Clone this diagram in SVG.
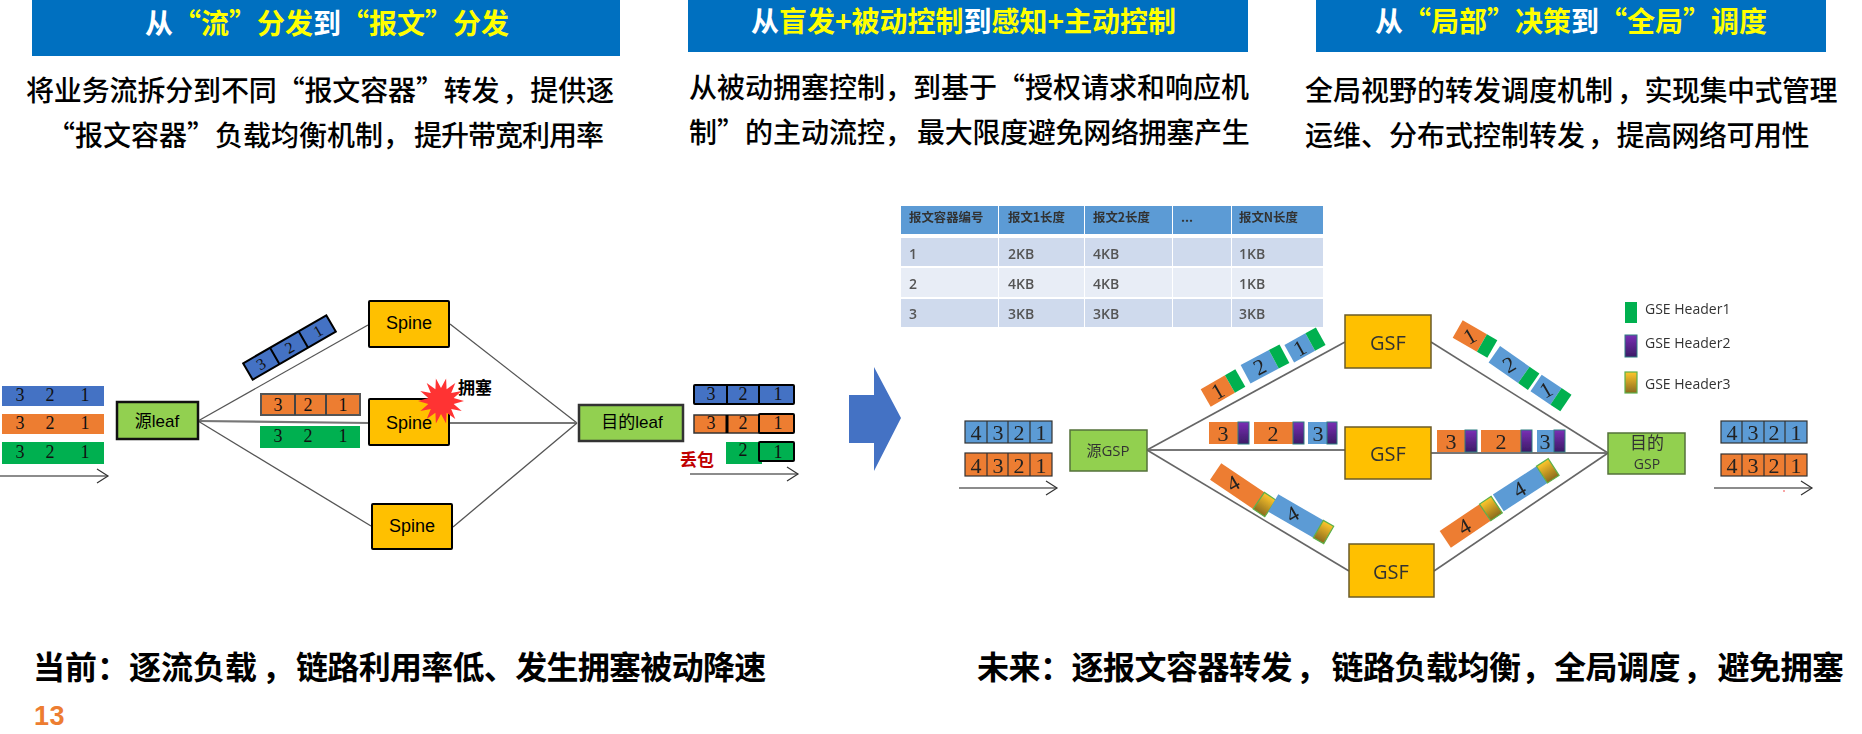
<svg xmlns="http://www.w3.org/2000/svg" width="1862" height="734" viewBox="0 0 1862 734">
<style>
text{font-family:"Noto Sans CJK SC","Liberation Sans",sans-serif}
.hb{fill:#0070C0}
.ht{font-size:28px;font-weight:700;fill:#fff}
.y{fill:#FFFF00}
.body{font-size:28px;font-weight:500;fill:#000}
.foot{font-size:32px;font-weight:700;fill:#000}
.s{font-family:"Liberation Serif",serif;text-anchor:middle;dominant-baseline:central;fill:#111}
.d18{font-size:18px}
.d22{font-size:22px;fill:#222}
.a{font-family:"Liberation Sans","Noto Sans CJK SC",sans-serif;text-anchor:middle;dominant-baseline:central;fill:#000}
.o{font-family:"Open Sans","Noto Sans CJK SC",sans-serif;fill:#333}
.m{text-anchor:middle;dominant-baseline:central}
.bl{fill:#4472C4}.or{fill:#ED7D31}.gr{fill:#00B050}
.bl2{fill:#5B9BD5}.pu{fill:url(#gPur);stroke:#2E7D80;stroke-width:1}.ye{fill:url(#gYel);stroke:#5DB04A;stroke-width:1.2}
.cell{stroke:#000;stroke-width:2}
.cell2{stroke:#333;stroke-width:1.2}
.sp{fill:#FFC000;stroke:#000;stroke-width:2}
.gsf{fill:#FFC000;stroke:#6B5B2A;stroke-width:1.5}
.lf{fill:#92D050;stroke:#111;stroke-width:2.5}
.gsp{fill:#92D050;stroke:#55713A;stroke-width:1.5}
.ln{fill:none;stroke:#555;stroke-width:1.3}
.ln2{fill:none;stroke:#777;stroke-width:2.2}
.ln3{fill:none;stroke:#666;stroke-width:1.6}
.ar{fill:none;stroke:#666;stroke-width:1.6;marker-end:url(#open)}
.th{font-size:12.4px;font-weight:700;fill:#333;dominant-baseline:central}
.td{font-family:"Open Sans",sans-serif;font-size:14px;font-weight:600;fill:#555;dominant-baseline:central}
</style>
<defs>
<marker id="open" markerUnits="userSpaceOnUse" markerWidth="14" markerHeight="18" refX="12" refY="8" orient="auto"><path d="M1 1 L12 8 L1 15" fill="none" stroke="#333" stroke-width="1.2"/></marker>
<linearGradient id="gPur" x1="0" y1="0" x2="0" y2="1"><stop offset="0" stop-color="#7A2FB5"/><stop offset="1" stop-color="#3B1C66"/></linearGradient>
<linearGradient id="gYel" x1="0" y1="0" x2="0" y2="1"><stop offset="0" stop-color="#FFC72C"/><stop offset="1" stop-color="#8B6B1E"/></linearGradient>
<filter id="soft" x="-2%" y="-2%" width="104%" height="104%"><feGaussianBlur stdDeviation="0.6"/></filter>
</defs>
<rect width="1862" height="734" fill="#fff"/>

<g id="header-1"><rect class="hb" x="32" y="0" width="588" height="56"/><text class="ht" x="145" y="34">从<tspan class="y">“流”分发</tspan>到<tspan class="y">“报文”分发</tspan></text></g>
<g id="header-2"><rect class="hb" x="688" y="0" width="560" height="52"/><text class="ht" x="751" y="32">从<tspan class="y">盲发+被动控制</tspan>到<tspan class="y">感知+主动控制</tspan></text></g>
<g id="header-3"><rect class="hb" x="1316" y="0" width="510" height="52"/><text class="ht" x="1375" y="32">从<tspan class="y">“局部”决策</tspan>到<tspan class="y">“全局”调度</tspan></text></g>

<g id="desc-1"><text class="body" x="26" y="101" letter-spacing="-0.15">将业务流拆分到不同“报文容器”转发<tspan dx="3">，提供逐</tspan></text><text class="body" x="47" y="146">“报文容器”负载均衡机制，<tspan dx="3" letter-spacing="-1">提升带宽利用率</tspan></text></g>
<g id="desc-2"><text class="body" x="689" y="98">从被动拥塞控制，到基于“授权请求和响应机</text><text class="body" x="689" y="143">制”的主动流控，<tspan dx="4" letter-spacing="-0.3">最大限度避免网络拥塞产生</tspan></text></g>
<g id="desc-3"><text class="body" x="1305" y="101">全局视野的转发调度机制<tspan dx="4" letter-spacing="-0.5">，实现集中式管理</tspan></text><text class="body" x="1305" y="146">运维、分布式控制转发<tspan dx="3" letter-spacing="-0.5">，</tspan><tspan dx="1" letter-spacing="-0.5">提高网络可用性</tspan></text></g>

<g id="connectors-left">
<path class="ln" d="M198 421 L368 325"/><path class="ln2" d="M198 421 L369 423"/><path class="ln" d="M198 421 L371 526"/>
<path class="ln" d="M450 324 L577 423"/><path class="ln2" d="M450 423 L577 423"/><path class="ln" d="M453 527 L577 423"/>
<path class="ar" d="M0 476 L108 476"/><path class="ar" d="M690 474 L798 474"/>
</g>

<g id="source-flows">
<rect class="bl" x="2" y="386" width="102" height="20"/><text class="s d18" x="20" y="395">3</text><text class="s d18" x="50" y="395">2</text><text class="s d18" x="85" y="395">1</text>
<rect class="or" x="2" y="414" width="102" height="20"/><text class="s d18" x="20" y="423">3</text><text class="s d18" x="50" y="423">2</text><text class="s d18" x="85" y="423">1</text>
<rect class="gr" x="2" y="442" width="102" height="22"/><text class="s d18" x="20" y="452">3</text><text class="s d18" x="50" y="452">2</text><text class="s d18" x="85" y="452">1</text>
</g>
<g id="src-leaf"><rect class="lf" x="117" y="402" width="81" height="37"/><text class="a" x="157" y="421" font-size="17">源leaf</text></g>
<g id="spine-1"><rect class="sp" x="369" y="301" width="80" height="46" rx="1"/><text class="a" x="409" y="323" font-size="18">Spine</text></g>
<g id="spine-2"><rect class="sp" x="369" y="399" width="80" height="46" rx="1"/>
<polygon fill="#FF3333" points="464,401 453.7,403.9 461.7,411 451.2,409.1 455.3,419 446.6,412.7 446.1,423.4 441,414 435.9,423.4 435.4,412.7 426.7,419 430.8,409.1 420.3,411 428.3,403.9 418,401 428.3,398.1 420.3,391 430.8,392.9 426.7,383 435.4,389.3 435.9,378.6 441,388 446.1,378.6 446.6,389.3 455.3,383 451.2,392.9 461.7,391 453.7,398.1"/>
<text class="a" x="409" y="423" font-size="18">Spine</text></g>
<g id="spine-3"><rect class="sp" x="372" y="504" width="80" height="45" rx="1"/><text class="a" x="412" y="526" font-size="18">Spine</text></g>
<g id="dst-leaf"><rect class="lf" x="579" y="405" width="104" height="36" style="stroke:#333"/><text class="a" x="632" y="422" font-size="17">目的leaf</text></g>

<g id="tilted-packet" transform="translate(289.5 347.5) rotate(-30)">
<rect class="bl cell" x="-48" y="-9.5" width="96" height="19"/><path class="cell" d="M-17 -9.5V9.5M16 -9.5V9.5"/>
<text class="s" font-size="16" x="-33" y="0">3</text><text class="s" font-size="16" x="0" y="0">2</text><text class="s" font-size="16" x="33" y="0">1</text>
</g>
<g id="mid-packets">
<rect class="or" x="261" y="394" width="99" height="21" stroke="#555" stroke-width="2"/><path stroke="#444" stroke-width="2" d="M295 394V415M326 394V415"/>
<text class="s d18" x="278" y="405">3</text><text class="s d18" x="308" y="405">2</text><text class="s d18" x="343" y="405">1</text>
<rect class="gr" x="260" y="426" width="100" height="22"/>
<text class="s d18" x="278" y="436">3</text><text class="s d18" x="308" y="436">2</text><text class="s d18" x="343" y="436">1</text>
</g>
<g id="congestion"><text x="458" y="394" font-size="17" font-weight="700" fill="#000">拥塞</text></g>
<g id="dest-flows">
<rect class="bl cell" x="694" y="385" width="100" height="19" rx="1"/><path class="cell" d="M727 385V404M759 385V404"/>
<text class="s d18" x="711" y="394">3</text><text class="s d18" x="743" y="394">2</text><text class="s d18" x="778" y="394">1</text>
<rect class="or" x="694" y="415" width="65" height="18" stroke="#333" stroke-width="1.5"/><path stroke="#000" stroke-width="3" d="M727 415V433"/>
<rect class="or cell" x="759" y="414" width="35" height="19" rx="1"/>
<text class="s d18" x="711" y="423">3</text><text class="s d18" x="743" y="423">2</text><text class="s d18" x="778" y="423">1</text>
<rect class="gr" x="726" y="442" width="36" height="22"/><text class="s d18" x="743" y="450">2</text>
<rect class="gr cell" x="759" y="442" width="35" height="19" rx="1"/><text class="s d18" x="778" y="452">1</text>
<text x="680" y="466" font-size="17" font-weight="700" fill="#C00000">丢包</text>
</g>
<g id="big-arrow"><polygon fill="#4472C4" points="849,395 874,395 874,367 901,418 874,471 874,443 849,443"/></g>

<g id="right-diagram" filter="url(#soft)">
<g id="table">
<rect x="901" y="206" width="97" height="28" fill="#5B9BD5"/><rect x="999" y="206" width="85" height="28" fill="#5B9BD5"/><rect x="1085" y="206" width="87" height="28" fill="#5B9BD5"/><rect x="1173" y="206" width="58" height="28" fill="#5B9BD5"/><rect x="1232" y="206" width="91" height="28" fill="#5B9BD5"/>
<rect x="901" y="238" width="97" height="28" fill="#CFDAED"/><rect x="999" y="238" width="85" height="28" fill="#CFDAED"/><rect x="1085" y="238" width="87" height="28" fill="#CFDAED"/><rect x="1173" y="238" width="58" height="28" fill="#CFDAED"/><rect x="1232" y="238" width="91" height="28" fill="#CFDAED"/>
<rect x="901" y="268" width="97" height="29" fill="#E8EDF6"/><rect x="999" y="268" width="85" height="29" fill="#E8EDF6"/><rect x="1085" y="268" width="87" height="29" fill="#E8EDF6"/><rect x="1173" y="268" width="58" height="29" fill="#E8EDF6"/><rect x="1232" y="268" width="91" height="29" fill="#E8EDF6"/>
<rect x="901" y="299" width="97" height="28" fill="#CFDAED"/><rect x="999" y="299" width="85" height="28" fill="#CFDAED"/><rect x="1085" y="299" width="87" height="28" fill="#CFDAED"/><rect x="1173" y="299" width="58" height="28" fill="#CFDAED"/><rect x="1232" y="299" width="91" height="28" fill="#CFDAED"/>
<text class="th" x="909" y="217">报文容器编号</text><text class="th" x="1008" y="217">报文1长度</text><text class="th" x="1093" y="217">报文2长度</text><text class="th" x="1181" y="217">...</text><text class="th" x="1239" y="217">报文N长度</text>
<text class="td" x="909" y="253">1</text><text class="td" x="1008" y="253">2KB</text><text class="td" x="1093" y="253">4KB</text><text class="td" x="1239" y="253">1KB</text>
<text class="td" x="909" y="283">2</text><text class="td" x="1008" y="283">4KB</text><text class="td" x="1093" y="283">4KB</text><text class="td" x="1239" y="283">1KB</text>
<text class="td" x="909" y="313">3</text><text class="td" x="1008" y="313">3KB</text><text class="td" x="1093" y="313">3KB</text><text class="td" x="1239" y="313">3KB</text>
</g>
<g id="connectors-right">
<path class="ln3" d="M1147 450 L1345 342"/><path class="ln2" d="M1147 450 L1345 450"/><path class="ln3" d="M1147 450 L1349 571"/>
<path class="ln3" d="M1431 342 L1608 453"/><path class="ln2" d="M1431 453 L1608 453"/><path class="ln3" d="M1434 571 L1608 453"/>
<path class="ar" d="M959 488 L1057 488"/><path class="ar" d="M1714 488 L1812 488"/>
</g>
<g id="src-gsp"><rect class="gsp" x="1070" y="430" width="77" height="41"/><text class="o m" x="1108" y="450" font-size="15" text-anchor="middle">源GSP</text></g>
<g id="gsf-1"><rect class="gsf" x="1345" y="315" width="86" height="53"/><text class="o m" x="1388" y="342" font-size="20" text-anchor="middle">GSF</text></g>
<g id="gsf-2"><rect class="gsf" x="1345" y="427" width="86" height="52"/><text class="o m" x="1388" y="453" font-size="20" text-anchor="middle">GSF</text></g>
<g id="gsf-3"><rect class="gsf" x="1349" y="544" width="85" height="53"/><text class="o m" x="1391" y="571" font-size="20" text-anchor="middle">GSF</text></g>
<g id="dst-gsp"><rect class="gsp" x="1608" y="433" width="77" height="41"/><text class="o m" x="1647" y="442" font-size="17">目的</text><text class="o m" x="1647" y="463" font-size="14">GSP</text></g>

<g id="input-flows">
<rect class="bl2 cell2" x="965" y="421" width="87" height="22"/><path class="cell2" d="M987 421V443M1008 421V443M1030 421V443"/>
<text class="s d22" x="976" y="432">4</text><text class="s d22" x="998" y="432">3</text><text class="s d22" x="1019" y="432">2</text><text class="s d22" x="1041" y="432">1</text>
<rect class="or cell2" x="965" y="453" width="87" height="23"/><path class="cell2" d="M987 453V476M1008 453V476M1030 453V476"/>
<text class="s d22" x="976" y="465">4</text><text class="s d22" x="998" y="465">3</text><text class="s d22" x="1019" y="465">2</text><text class="s d22" x="1041" y="465">1</text>
</g>
<g id="output-flows">
<rect class="bl2 cell2" x="1721" y="421" width="86" height="22"/><path class="cell2" d="M1742 421V443M1764 421V443M1785 421V443"/>
<text class="s d22" x="1732" y="432">4</text><text class="s d22" x="1753" y="432">3</text><text class="s d22" x="1774" y="432">2</text><text class="s d22" x="1796" y="432">1</text>
<rect class="or cell2" x="1721" y="454" width="86" height="22"/><path class="cell2" d="M1742 454V476M1764 454V476M1785 454V476"/>
<text class="s d22" x="1732" y="465">4</text><text class="s d22" x="1753" y="465">3</text><text class="s d22" x="1774" y="465">2</text><text class="s d22" x="1796" y="465">1</text>
<circle cx="1784" cy="491" r="0.8" fill="#E33"/>
</g>

<g id="pkts-upper-left">
<g transform="translate(1223 388) rotate(-30)"><rect class="or" x="-20" y="-10" width="28" height="20"/><rect class="gr" x="8" y="-10" width="12" height="20"/><text class="s d22" x="-6" y="0">1</text></g>
<g transform="translate(1265 364) rotate(-28)"><rect class="bl2" x="-22" y="-10.5" width="32" height="21"/><rect class="gr" x="10" y="-10.5" width="12" height="21"/><text class="s d22" x="-6" y="0">2</text></g>
<g transform="translate(1305 345) rotate(-29)"><rect class="bl2" x="-18" y="-10" width="24" height="20"/><rect class="gr" x="6" y="-10" width="12" height="20"/><text class="s d22" x="-6" y="0">1</text></g>
</g>
<g id="pkts-upper-right">
<g transform="translate(1475 339) rotate(30)"><rect class="or" x="-20" y="-10" width="28" height="20"/><rect class="gr" x="8" y="-10" width="12" height="20"/><text class="s d22" x="-6" y="0" transform="rotate(-60 -6 0)">1</text></g>
<g transform="translate(1514 368) rotate(35)"><rect class="bl2" x="-24" y="-10" width="36" height="20"/><rect class="gr" x="12" y="-10" width="12" height="20"/><text class="s d22" x="-6" y="0" transform="rotate(-65 -6 0)">2</text></g>
<g transform="translate(1551 393) rotate(34)"><rect class="bl2" x="-18" y="-10" width="24" height="20"/><rect class="gr" x="6" y="-10" width="12" height="20"/><text class="s d22" x="-6" y="0" transform="rotate(-64 -6 0)">1</text></g>
</g>
<g id="pkts-middle-left">
<rect class="or" x="1209" y="422" width="29" height="22"/><rect class="pu" x="1238" y="422" width="11" height="22"/><text class="s d22" x="1223" y="433">3</text>
<rect class="or" x="1254" y="422" width="39" height="22"/><rect class="pu" x="1293" y="422" width="11" height="22"/><text class="s d22" x="1273" y="433">2</text>
<rect class="bl2" x="1308" y="422" width="19" height="22"/><rect class="pu" x="1327" y="422" width="10" height="22"/><text class="s d22" x="1318" y="433">3</text>
</g>
<g id="pkts-middle-right">
<rect class="or" x="1437" y="430" width="28" height="22"/><rect class="pu" x="1465" y="430" width="12" height="22"/><text class="s d22" x="1451" y="441">3</text>
<rect class="or" x="1481" y="430" width="40" height="22"/><rect class="pu" x="1521" y="430" width="11" height="22"/><text class="s d22" x="1501" y="441">2</text>
<rect class="bl2" x="1537" y="430" width="17" height="22"/><rect class="pu" x="1554" y="430" width="11" height="22"/><text class="s d22" x="1545" y="441">3</text>
</g>
<g id="pkts-lower-left">
<g transform="translate(1243 490) rotate(34)"><rect class="or" x="-33" y="-10" width="52" height="20"/><rect x="19" y="-10" width="14" height="20" fill="url(#gYel)" stroke="#5DB04A" stroke-width="1.2"/><text class="s d22" x="-12" y="0" transform="rotate(-64 -12 0)">4</text></g>
<g transform="translate(1301 519) rotate(30)"><rect class="bl2" x="-32" y="-10" width="52" height="20"/><rect x="20" y="-10" width="12" height="20" fill="url(#gYel)" stroke="#5DB04A" stroke-width="1.2"/><text class="s d22" x="-10" y="0" transform="rotate(-60 -10 0)">4</text></g>
</g>
<g id="pkts-lower-right">
<g transform="translate(1471 522) rotate(-34)"><rect class="or" x="-31" y="-10" width="48" height="20"/><rect x="17" y="-10" width="14" height="20" fill="url(#gYel)" stroke="#5DB04A" stroke-width="1.2"/><text class="s d22" x="-8" y="0" transform="rotate(4 -8 0)">4</text></g>
<g transform="translate(1526 485) rotate(-33)"><rect class="bl2" x="-33" y="-10" width="52" height="20"/><rect x="19" y="-10" width="14" height="20" fill="url(#gYel)" stroke="#5DB04A" stroke-width="1.2"/><text class="s d22" x="-8" y="0" transform="rotate(3 -8 0)">4</text></g>
</g>
<g id="legend">
<rect class="gr" x="1625" y="302" width="12" height="21"/><text class="o" x="1645" y="314" font-size="14" fill="#444">GSE Header1</text>
<rect class="pu" x="1625" y="335" width="12" height="22"/><text class="o" x="1645" y="348" font-size="14">GSE Header2</text>
<rect class="ye" x="1625" y="372" width="12" height="21"/><text class="o" x="1645" y="389" font-size="14">GSE Header3</text>
</g>
</g>

<g id="footer-left"><text class="foot" x="33" y="679">当前：逐流负载<tspan dx="5">，</tspan><tspan dx="2" letter-spacing="-0.7">链路利用率低、发生拥塞被动降速</tspan></text></g>
<g id="footer-right"><text class="foot" x="977" y="679" letter-spacing="-0.5">未来：逐报文容器转发<tspan dx="4">，</tspan><tspan dx="4">链路负载均衡</tspan><tspan dx="1">，</tspan><tspan dx="1">全局调度</tspan><tspan dx="3">，</tspan><tspan dx="3">避免拥塞</tspan></text></g>
<g id="page-number"><text x="34" y="725" font-size="27" font-weight="700" fill="#ED7D31" style="font-family:'Liberation Sans',sans-serif" letter-spacing="0.5">13</text></g>
</svg>
